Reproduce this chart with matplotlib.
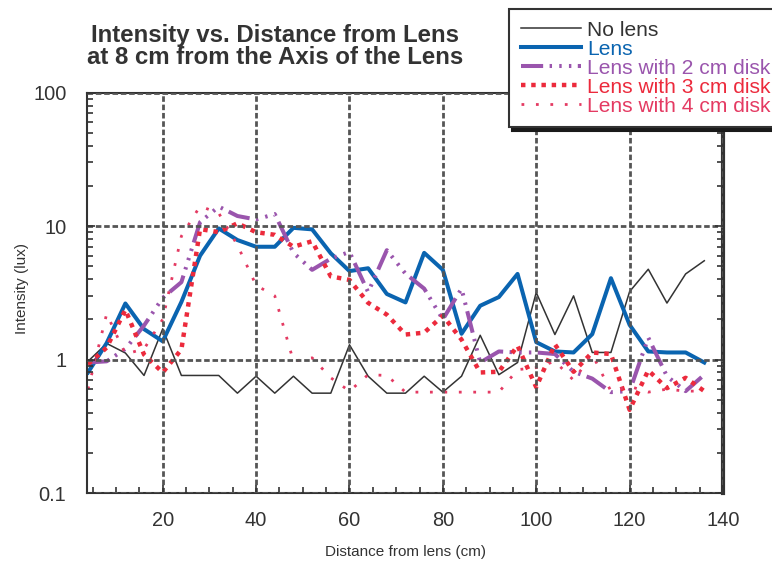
import matplotlib
matplotlib.use("Agg")
import matplotlib.pyplot as plt
from matplotlib.ticker import MultipleLocator, LogLocator, FuncFormatter, NullFormatter

plt.rcParams['font.family'] = ['Liberation Sans', 'DejaVu Sans']

# distance from lens (cm), one reading every 4 cm
distance = list(range(4, 137, 4))

# intensity readings (lux)
no_lens = [0.97, 1.32, 1.12, 0.76, 1.70, 0.76, 0.76, 0.76, 0.56, 0.75, 0.56, 0.75,
           0.56, 0.56, 1.29, 0.75, 0.56, 0.56, 0.75, 0.57, 0.75, 1.52, 0.77, 0.95,
           3.18, 1.54, 3.0, 1.13, 1.13, 3.23, 4.75, 2.65, 4.38, 5.5]
lens = [0.80, 1.33, 2.63, 1.69, 1.37, 2.7, 6.0, 9.6, 7.86, 7.0, 7.0, 9.7,
        9.45, 6.25, 4.6, 4.83, 3.1, 2.68, 6.3, 4.7, 1.56, 2.53, 2.94, 4.38,
        1.35, 1.15, 1.13, 1.55, 4.07, 1.82, 1.15, 1.13, 1.13, 0.95]
disk_2cm = [0.95, 0.97, 1.2, 1.8, 2.9, 3.8, 10.7, 14.0, 11.9, 11.2, 12.3, 6.3,
            4.7, 5.7, 6.4, 3.2, 6.6, 4.4, 3.4, 2.0, 3.4, 0.95, 1.15, 1.13,
            1.13, 1.1, 0.81, 0.72, 0.57, 0.58, 1.46, 0.75, 0.58, 0.77]
disk_3cm = [0.92, 1.23, 2.36, 1.09, 0.8, 1.19, 9.5, 9.0, 10.5, 9.0, 8.6, 7.0,
            7.7, 4.2, 3.95, 2.66, 2.17, 1.54, 1.59, 2.13, 1.41, 0.8, 0.81, 1.27,
            0.62, 1.3, 0.81, 1.13, 1.1, 0.42, 0.83, 0.61, 0.73, 0.58]
disk_4cm = [0.6, 2.2, 1.1, 1.2, 2.0, 8.4, 14.1, 12.5, 7.2, 3.6, 3.0, 0.97,
            1.03, 0.73, 0.58, 0.77, 0.76, 0.57, 0.57, 0.57, 0.57, 0.57, 0.57, 0.84,
            0.87, 0.97, 0.7, 1.09, 0.58, 0.63, 0.57, 0.6, 0.58, 0.58]

labels = ["No lens", "Lens", "Lens with 2 cm disk", "Lens with 3 cm disk", "Lens with 4 cm disk"]
colors = ["#333333", "#0a64b0", "#9a55ad", "#ec2a3c", "#e43a62"]
ink = "#333333"

fig = plt.figure(figsize=(7.72, 5.63), dpi=100)
ax = fig.add_axes([0.1131, 0.1243, 0.8234, 0.7112])

h1, = ax.plot(distance, no_lens, color=colors[0], lw=1.1)
h2, = ax.plot(distance, lens, color=colors[1], lw=2.9)
h3, = ax.plot(distance, disk_2cm, color=colors[2], lw=2.9,
              dashes=(5.5, 1.6, 0.6, 1.8, 0.6, 1.8, 0.6, 1.6), dash_capstyle='butt')
h4, = ax.plot(distance, disk_3cm, color=colors[3], lw=3.2,
              dashes=(1, 1.3), dash_capstyle='butt')
h5, = ax.plot(distance, disk_4cm, color=colors[4], lw=2.0,
              dashes=(1, 4.2), dash_capstyle='butt')

ax.set_yscale('log')
ax.set_ylim(0.1, 100)
ax.set_xlim(3.85, 140)

ax.xaxis.set_major_locator(MultipleLocator(20))
ax.xaxis.set_minor_locator(MultipleLocator(5))
ax.yaxis.set_major_locator(LogLocator(base=10))
ax.yaxis.set_minor_locator(LogLocator(base=10, subs=range(2, 10)))
ax.yaxis.set_major_formatter(FuncFormatter(lambda v, _: f"{v:g}"))
ax.yaxis.set_minor_formatter(NullFormatter())

ax.grid(True, which='major', color='#555555', lw=2, linestyle=(0, (2, 1)))
ax.set_axisbelow(False)

ax.tick_params(which='both', direction='in', right=True, colors=ink, labelcolor=ink,
               labelsize=14.4)
ax.tick_params(which='major', length=6, width=1.2)
ax.tick_params(which='minor', length=4.5, width=1.2)
ax.tick_params(axis='x', pad=13)
ax.tick_params(axis='y', pad=15)

for side, sp in ax.spines.items():
    sp.set_color(ink)
    sp.set_linewidth(1.5)
ax.spines['right'].set_linewidth(3)

ax.set_xlabel("Distance from lens (cm)", fontsize=11, color=ink)
ax.set_ylabel("Intensity (lux)", fontsize=11, color=ink, va='center')
ax.xaxis.set_label_coords(0.5, -0.13)
ax.yaxis.set_label_coords(-0.103, 0.51)

fig.text(275 / 772, 1 - 42 / 563, "Intensity vs. Distance from Lens",
         ha='center', va='baseline', fontsize=17.3, fontweight='bold', color=ink)
fig.text(275 / 772, 1 - 64 / 563, "at 8 cm from the Axis of the Lens",
         ha='center', va='baseline', fontsize=17.3, fontweight='bold', color=ink)

leg = fig.legend([h1, h2, h3, h4, h5], labels, loc='upper left',
                 bbox_to_anchor=(509 / 772, 1 - 9 / 563), borderaxespad=0,
                 fontsize=15.1, handlelength=2.86, handletextpad=0.33,
                 borderpad=0.55, labelspacing=0.0, fancybox=False,
                 framealpha=1, edgecolor=ink,
                 shadow={'color': '#1a1a1a', 'alpha': 1, 'ox': 2.5, 'oy': -2.5})
leg.get_frame().set_linewidth(1.5)
for t, c in zip(leg.get_texts(), colors):
    t.set_color(c)

fig.savefig("out.png", dpi=100)
